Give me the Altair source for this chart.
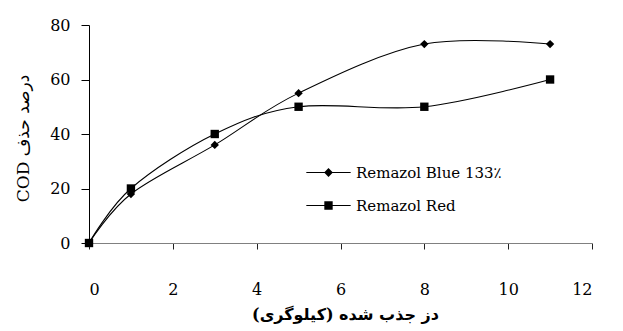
import altair as alt
import pandas as pd

dose = [0, 1, 3, 5, 8, 11]
blue = [0, 18, 36, 55, 73, 73]
red = [0, 20, 40, 50, 50, 60]
series_names = ["Remazol Blue 133٪", "Remazol Red"]
x_ticks = [0, 2, 4, 6, 8, 10, 12]
y_ticks = [0, 20, 40, 60, 80]
x_title = "\u202bدز جذب شده (کیلوگری)\u202c"
y_title = "\u202bدرصد حذف COD\u202c"

rows = []
for name, vals in zip(series_names, [blue, red]):
    for d, v in zip(dose, vals):
        rows.append({"dose": d, "value": v, "series": name})
df = pd.DataFrame(rows)

SERIF = "DejaVu Serif, DejaVu Sans"

x_enc = alt.X("dose:Q", scale=alt.Scale(domain=[0, 12], nice=False),
              axis=alt.Axis(values=x_ticks, title=x_title, grid=False,
                            tickSize=6, labelPadding=32, labelBaseline="top",
                            domainColor="#808080", tickColor="#222222",
                            titleFontWeight="bold", titleFontSize=16, titleFont=SERIF,
                            titlePadding=9, titleX=256, labelFontSize=16, labelFont=SERIF,
                            labelColor="black", titleColor="black"))
y_enc = alt.Y("value:Q", scale=alt.Scale(domain=[0, 80], nice=False),
              axis=alt.Axis(values=y_ticks, title=y_title, grid=False,
                            tickSize=8, labelPadding=11,
                            domainColor="black", tickColor="black",
                            titleFontWeight="normal", titleFontSize=17, titleFont=SERIF,
                            titleX=-57, titleY=113, titleAngle=-90,
                            labelFontSize=16, labelFont=SERIF,
                            labelColor="black", titleColor="black"))

lines = alt.Chart(df).mark_line(interpolate="cardinal", color="black", strokeWidth=1.1).encode(
    x=x_enc, y=y_enc, detail="series:N")

points = alt.Chart(df).mark_point(filled=True, color="black", opacity=1, size=70).encode(
    x=x_enc, y=y_enc,
    shape=alt.Shape("series:N", scale=alt.Scale(domain=series_names, range=["diamond", "square"]),
                    legend=None))

legend_paths = [
    "M-5.3,-0.13L5.3,-0.13L5.3,0.13L-5.3,0.13ZM0,-1.05L1.05,0L0,1.05L-1.05,0Z",
    "M-5.3,-0.13L5.3,-0.13L5.3,0.13L-5.3,0.13ZM-1,-1L1,-1L1,1L-1,1Z",
]
legend_layer = alt.Chart(df).transform_filter("false").mark_point(
    filled=True, color="black", size=70).encode(
    x=x_enc, y=y_enc,
    shape=alt.Shape("series:N", scale=alt.Scale(domain=series_names, range=legend_paths),
                    legend=alt.Legend(title=None, orient="none", legendX=232, legendY=140,
                                      labelFontSize=15, labelFont=SERIF, labelColor="black",
                                      labelOffset=20, rowPadding=17, padding=0,
                                      symbolFillColor="black", symbolOpacity=1, symbolSize=70)))

chart = alt.layer(lines, points, legend_layer).resolve_scale(shape="independent").properties(
    width=503, height=218,
    background="white",
    autosize=alt.AutoSizeParams(type="none"),
    padding={"left": 81, "top": 17, "right": 20, "bottom": 90},
).configure_view(stroke=None)

chart.save("out.html", embed_options={"renderer": "svg", "actions": False})
